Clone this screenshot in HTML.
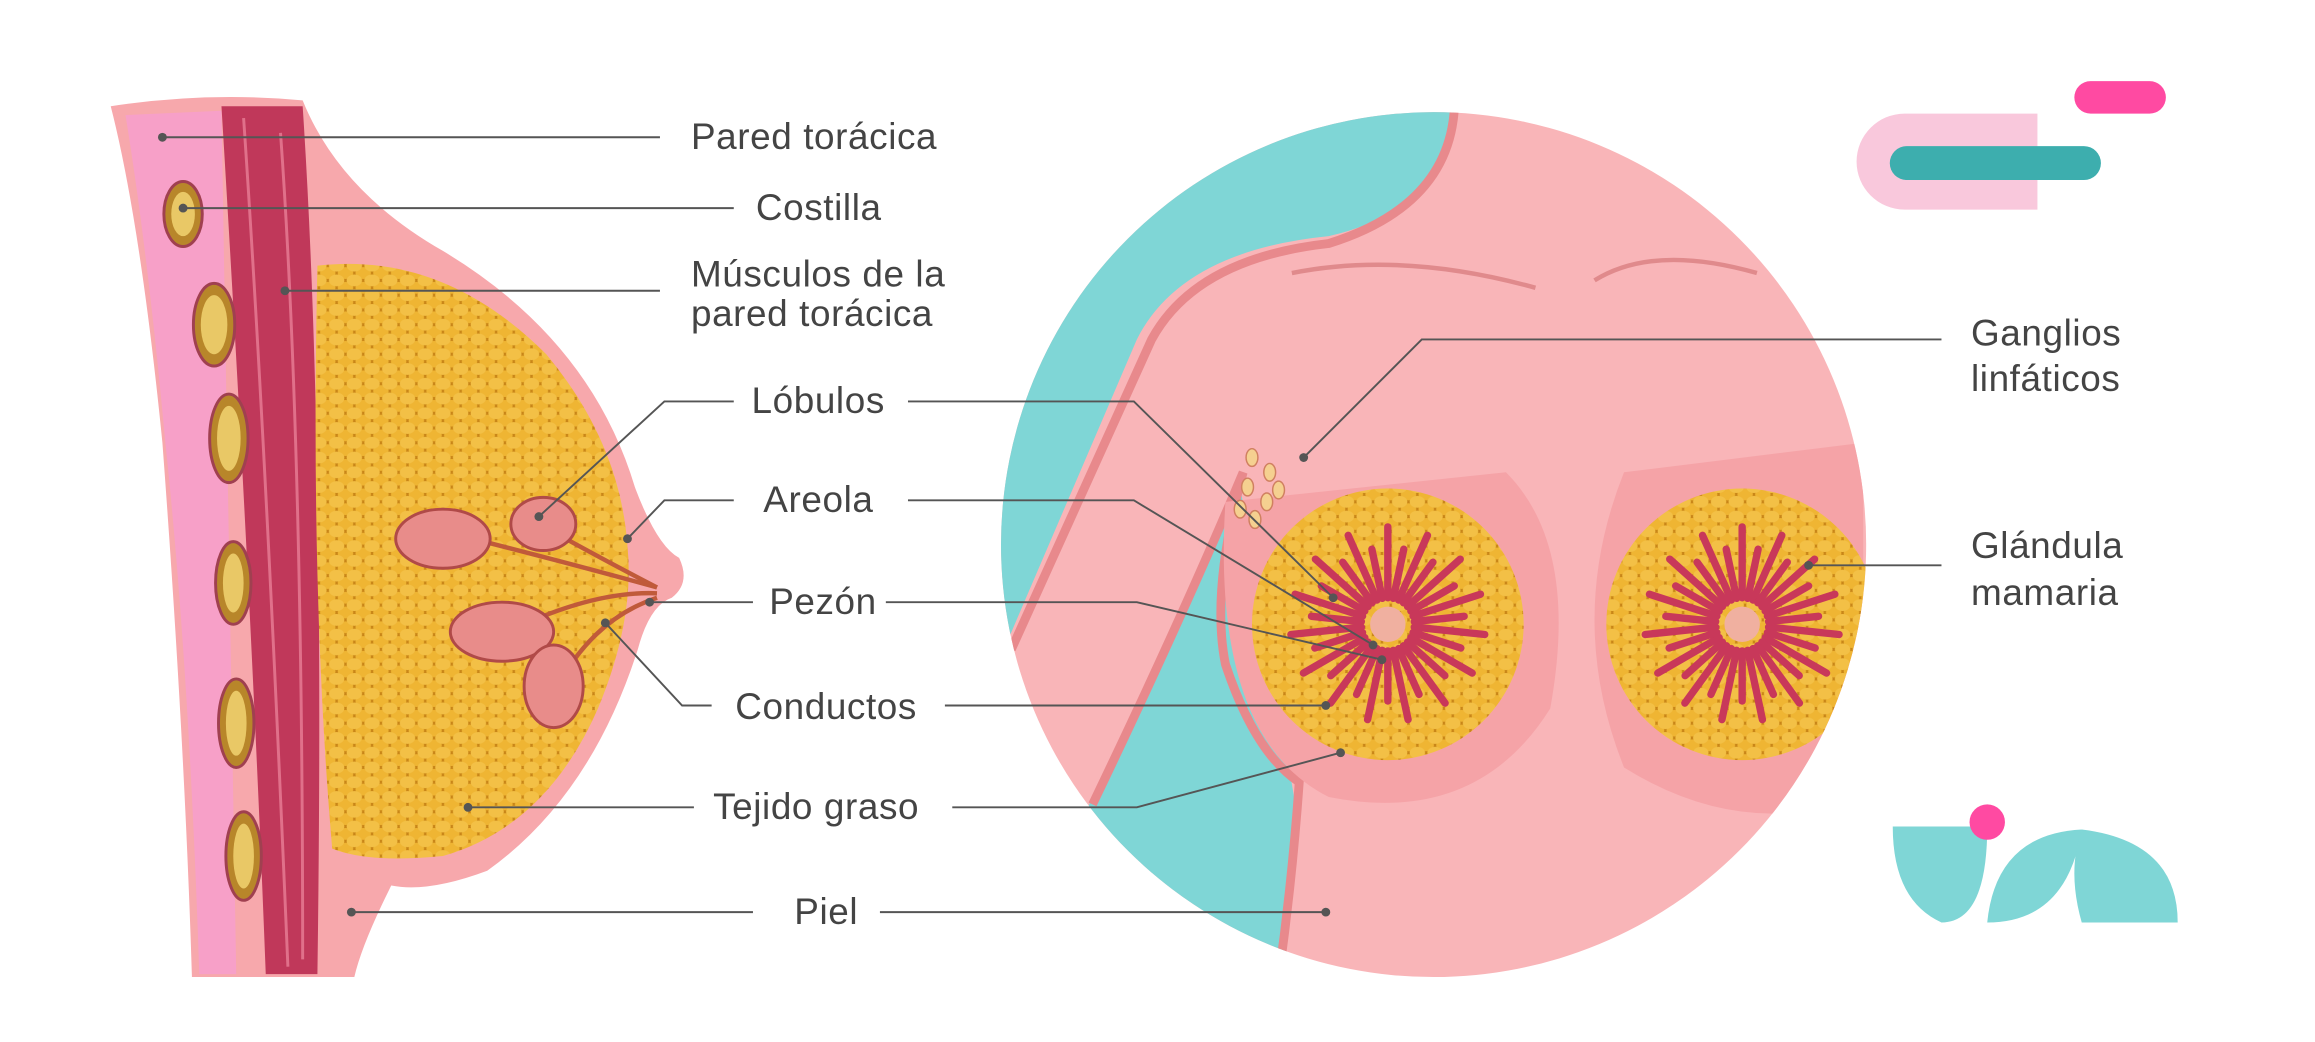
<!DOCTYPE html>
<html><head><meta charset="utf-8"><style>
html,body{margin:0;padding:0;background:#fff;}
svg{display:block;}
text{font-family:"Liberation Sans",sans-serif;font-size:25px;letter-spacing:0.4px;fill:#444;}
</style></head><body>
<svg width="2315" height="1042" viewBox="0 0 1568 706" preserveAspectRatio="none" xmlns="http://www.w3.org/2000/svg">
<defs>
<pattern id="fat" width="12" height="10" patternUnits="userSpaceOnUse">
<rect width="12" height="10" fill="#c98618"/>
<ellipse cx="6" cy="5" rx="5.2" ry="4" fill="#efb533"/>
<ellipse cx="0" cy="0" rx="5.2" ry="4" fill="#f3c046"/>
<ellipse cx="12" cy="0" rx="5.2" ry="4" fill="#f3c046"/>
<ellipse cx="0" cy="10" rx="5.2" ry="4" fill="#f3c046"/>
<ellipse cx="12" cy="10" rx="5.2" ry="4" fill="#f3c046"/>
</pattern>
<clipPath id="circ"><circle cx="971" cy="369" r="293"/></clipPath>
<g id="rays" stroke="#c8385a" stroke-width="5" stroke-linecap="round">
<line x1="0" y1="-18" x2="0" y2="-66"/><line x1="0" y1="-18" x2="0" y2="-52" transform="rotate(12)"/>
<line x1="0" y1="-18" x2="0" y2="-66" transform="rotate(24)"/><line x1="0" y1="-18" x2="0" y2="-52" transform="rotate(36)"/>
<line x1="0" y1="-18" x2="0" y2="-66" transform="rotate(48)"/><line x1="0" y1="-18" x2="0" y2="-52" transform="rotate(60)"/>
<line x1="0" y1="-18" x2="0" y2="-66" transform="rotate(72)"/><line x1="0" y1="-18" x2="0" y2="-52" transform="rotate(84)"/>
<line x1="0" y1="-18" x2="0" y2="-66" transform="rotate(96)"/><line x1="0" y1="-18" x2="0" y2="-52" transform="rotate(108)"/>
<line x1="0" y1="-18" x2="0" y2="-66" transform="rotate(120)"/><line x1="0" y1="-18" x2="0" y2="-52" transform="rotate(132)"/>
<line x1="0" y1="-18" x2="0" y2="-66" transform="rotate(144)"/><line x1="0" y1="-18" x2="0" y2="-52" transform="rotate(156)"/>
<line x1="0" y1="-18" x2="0" y2="-66" transform="rotate(168)"/><line x1="0" y1="-18" x2="0" y2="-52" transform="rotate(180)"/>
<line x1="0" y1="-18" x2="0" y2="-66" transform="rotate(192)"/><line x1="0" y1="-18" x2="0" y2="-52" transform="rotate(204)"/>
<line x1="0" y1="-18" x2="0" y2="-66" transform="rotate(216)"/><line x1="0" y1="-18" x2="0" y2="-52" transform="rotate(228)"/>
<line x1="0" y1="-18" x2="0" y2="-66" transform="rotate(240)"/><line x1="0" y1="-18" x2="0" y2="-52" transform="rotate(252)"/>
<line x1="0" y1="-18" x2="0" y2="-66" transform="rotate(264)"/><line x1="0" y1="-18" x2="0" y2="-52" transform="rotate(276)"/>
<line x1="0" y1="-18" x2="0" y2="-66" transform="rotate(288)"/><line x1="0" y1="-18" x2="0" y2="-52" transform="rotate(300)"/>
<line x1="0" y1="-18" x2="0" y2="-66" transform="rotate(312)"/><line x1="0" y1="-18" x2="0" y2="-52" transform="rotate(324)"/>
<line x1="0" y1="-18" x2="0" y2="-66" transform="rotate(336)"/><line x1="0" y1="-18" x2="0" y2="-52" transform="rotate(348)"/>
</g>
</defs>
<rect width="1568" height="706" fill="#fff"/>

<!-- LEFT BREAST -->
<path d="M75,72 Q140,62 205,68 Q230,130 300,170 Q400,230 430,330 Q445,370 460,378 Q468,395 455,405 Q440,410 432,440 Q400,540 330,590 Q290,605 265,600 Q245,640 240,662 L130,662 Q125,500 110,300 Q95,150 75,72 Z" fill="#f7a8ac"/>
<path d="M85,78 L150,75 L160,660 L135,660 Q128,450 112,300 Q100,170 85,78Z" fill="#f7a0c8"/>
<path d="M150,72 L205,72 Q220,300 215,660 L180,660 Q170,400 150,72Z" fill="#c0385a"/>
<path d="M165,80 Q180,300 195,655" stroke="#e0708a" stroke-width="2" fill="none"/>
<path d="M190,90 Q205,300 205,650" stroke="#e0708a" stroke-width="2" fill="none"/>
<g fill="#b8862a" stroke="#a04050" stroke-width="2">
<ellipse cx="124" cy="145" rx="13" ry="22"/>
<ellipse cx="145" cy="220" rx="14" ry="28"/>
<ellipse cx="155" cy="297" rx="13" ry="30"/>
<ellipse cx="158" cy="395" rx="12" ry="28"/>
<ellipse cx="160" cy="490" rx="12" ry="30"/>
<ellipse cx="165" cy="580" rx="12" ry="30"/>
</g>
<g fill="#e9c866">
<ellipse cx="124" cy="145" rx="8" ry="15"/><ellipse cx="145" cy="220" rx="9" ry="20"/><ellipse cx="155" cy="297" rx="8" ry="22"/><ellipse cx="158" cy="395" rx="7" ry="20"/><ellipse cx="160" cy="490" rx="7" ry="22"/><ellipse cx="165" cy="580" rx="7" ry="22"/>
</g>
<path d="M215,180 Q300,170 370,240 Q420,300 425,370 Q430,420 405,480 Q370,560 300,580 Q250,585 225,575 Q210,400 215,180Z" fill="url(#fat)"/>
<g stroke="#c05a3a" stroke-width="3" fill="none">
<path d="M300,360 Q380,380 445,398"/><path d="M365,355 Q410,380 445,398"/><path d="M340,430 Q400,400 445,402"/><path d="M375,470 Q400,420 445,405"/>
</g>
<g fill="#e88c8a" stroke="#b04a48" stroke-width="2">
<ellipse cx="300" cy="365" rx="32" ry="20"/><ellipse cx="368" cy="355" rx="22" ry="18"/><ellipse cx="340" cy="428" rx="35" ry="20"/><ellipse cx="375" cy="465" rx="20" ry="28"/>
</g>

<!-- CIRCLE -->
<g clip-path="url(#circ)">
<rect x="670" y="70" width="600" height="600" fill="#f9b5b8"/>
<path d="M670,70 L985,70 Q985,140 900,160 Q800,170 770,230 L680,440 L670,440Z" fill="#7fd6d6"/>
<path d="M985,75 Q980,140 900,165 Q810,175 780,230 L685,440" stroke="#e8898c" stroke-width="6" fill="none"/>
<path d="M670,700 L740,540 Q800,420 840,330 L880,560 Q870,620 870,670 Z" fill="#7fd6d6"/>
<path d="M740,545 Q800,420 842,320 Q820,400 830,450 Q850,510 880,530 Q875,600 865,670" stroke="#e8898c" stroke-width="6" fill="none"/>
<path d="M830,340 Q820,500 900,540 Q1000,560 1050,480 Q1070,370 1020,320" fill="#f5a3a7"/>
<path d="M1100,320 Q1060,420 1100,520 Q1180,570 1262,540 L1262,300Z" fill="#f5a3a7"/>
<path d="M875,185 Q950,170 1040,195" stroke="#e08a8c" stroke-width="3" fill="none"/>
<path d="M1080,190 Q1120,165 1190,185" stroke="#e08a8c" stroke-width="3" fill="none"/>
<circle cx="940" cy="423" r="92" fill="url(#fat)"/>
<circle cx="1180" cy="423" r="92" fill="url(#fat)"/>
<use href="#rays" x="940" y="423"/>
<use href="#rays" x="1180" y="423"/>
<circle cx="940" cy="423" r="12" fill="#f0b0a0"/>
<circle cx="1180" cy="423" r="12" fill="#f0b0a0"/>
<g fill="#f5d090" stroke="#d08060" stroke-width="1">
<ellipse cx="848" cy="310" rx="4" ry="6"/><ellipse cx="860" cy="320" rx="4" ry="6"/><ellipse cx="845" cy="330" rx="4" ry="6"/><ellipse cx="858" cy="340" rx="4" ry="6"/><ellipse cx="850" cy="352" rx="4" ry="6"/><ellipse cx="840" cy="345" rx="4" ry="6"/><ellipse cx="866" cy="332" rx="4" ry="6"/>
</g>
</g>

<!-- LOGOS -->
<rect x="1405" y="55" width="62" height="22" rx="11" fill="#ff4aa2"/>
<path d="M1290,77 L1380,77 L1380,142 L1290,142 A32.5,32.5 0 0 1 1290,77Z" fill="#f9c8dc"/>
<rect x="1280" y="99" width="143" height="23" rx="11.5" fill="#3daeae"/>
<path d="M1282,560 L1346,560 Q1346,625 1315,625 Q1282,610 1282,560Z" fill="#7fd6d6"/>
<path d="M1346,625 Q1352,565 1410,562 Q1400,625 1346,625Z" fill="#7fd6d6"/>
<path d="M1410,562 Q1475,570 1475,625 L1410,625 Q1400,590 1410,562Z" fill="#7fd6d6"/>
<circle cx="1346" cy="557" r="12" fill="#ff4aa2"/>

<!-- LEADER LINES -->
<g stroke="#555" stroke-width="1.3" fill="none">
<line x1="110" y1="93" x2="447" y2="93"/>
<line x1="124" y1="141" x2="497" y2="141"/>
<line x1="193" y1="197" x2="447" y2="197"/>
<polyline points="365,350 450,272 497,272"/>
<polyline points="425,365 450,339 497,339"/>
<line x1="440" y1="408" x2="510" y2="408"/>
<polyline points="410,422 462,478 482,478"/>
<line x1="317" y1="547" x2="470" y2="547"/>
<line x1="238" y1="618" x2="510" y2="618"/>
<polyline points="615,272 768,272 903,405"/>
<polyline points="615,339 768,339 930,437"/>
<polyline points="600,408 770,408 936,447"/>
<line x1="640" y1="478" x2="898" y2="478"/>
<polyline points="645,547 770,547 908,510"/>
<line x1="596" y1="618" x2="898" y2="618"/>
<polyline points="883,310 963,230 1315,230"/>
<line x1="1225" y1="383" x2="1315" y2="383"/>
</g>
<g fill="#555">
<circle cx="110" cy="93" r="3"/><circle cx="124" cy="141" r="3"/><circle cx="193" cy="197" r="3"/><circle cx="365" cy="350" r="3"/><circle cx="425" cy="365" r="3"/><circle cx="440" cy="408" r="3"/><circle cx="410" cy="422" r="3"/><circle cx="317" cy="547" r="3"/><circle cx="238" cy="618" r="3"/>
<circle cx="903" cy="405" r="3"/><circle cx="930" cy="437" r="3"/><circle cx="936" cy="447" r="3"/><circle cx="898" cy="478" r="3"/><circle cx="908" cy="510" r="3"/><circle cx="898" cy="618" r="3"/><circle cx="883" cy="310" r="3"/><circle cx="1225" cy="383" r="3"/>
</g>

<!-- LABELS -->
<text x="468" y="101">Pared torácica</text>
<text x="512" y="149">Costilla</text>
<text x="468" y="194">Músculos de la</text>
<text x="468" y="221">pared torácica</text>
<text x="509" y="280">Lóbulos</text>
<text x="517" y="347">Areola</text>
<text x="521" y="416">Pezón</text>
<text x="498" y="487">Conductos</text>
<text x="483" y="555">Tejido graso</text>
<text x="538" y="626">Piel</text>
<text x="1335" y="234">Ganglios</text>
<text x="1335" y="265">linfáticos</text>
<text x="1335" y="378">Glándula</text>
<text x="1335" y="410">mamaria</text>
</svg>
</body></html>
